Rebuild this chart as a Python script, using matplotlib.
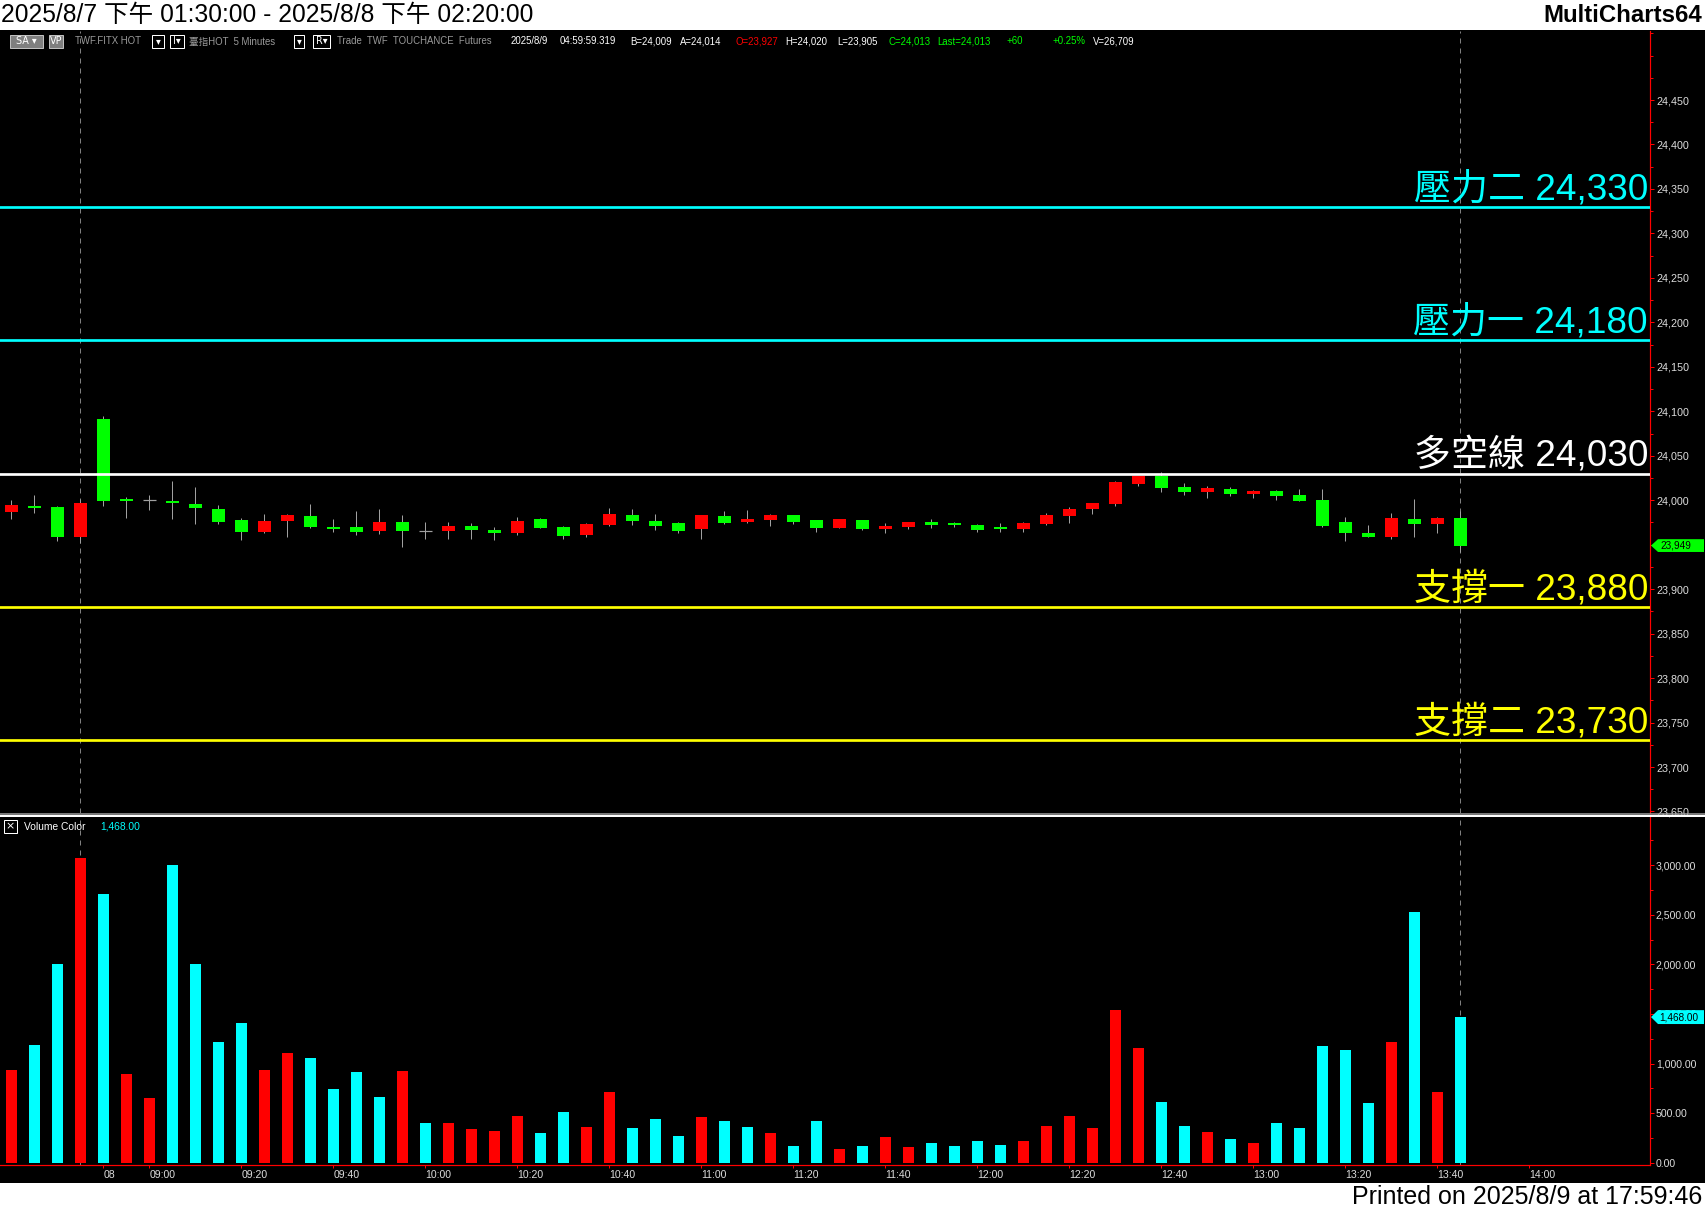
import matplotlib
matplotlib.use('Agg')
import matplotlib.pyplot as plt
from matplotlib.patches import Rectangle, Polygon
from matplotlib.lines import Line2D
from matplotlib.transforms import blended_transform_factory
from matplotlib.ticker import MultipleLocator

# ---------------- data ----------------
opens = [23987, 23993, 23992, 23959, 24091, 24001, 24000, 23999, 23996, 23990,
         23978, 23964, 23977, 23982, 23970, 23970, 23965, 23975, 23965, 23965,
         23971, 23966, 23963, 23979, 23970, 23961, 23972, 23983, 23977, 23974,
         23968, 23982, 23976, 23978, 23983, 23978, 23969, 23978, 23968, 23970,
         23975, 23974, 23972, 23970, 23968, 23973, 23982, 23990, 23996, 24018,
         24027, 24015, 24009, 24013, 24007, 24010, 24006, 24000, 23975, 23963,
         23959, 23979, 23973, 23980]
highs = [24000, 24006, 23994, 24001, 24095, 24004, 24006, 24022, 24015, 23995,
         23980, 23985, 23985, 23996, 23979, 23988, 23990, 23983, 23976, 23976,
         23974, 23970, 23981, 23980, 23971, 23974, 23991, 23990, 23985, 23976,
         23983, 23988, 23989, 23985, 23983, 23978, 23979, 23978, 23974, 23976,
         23979, 23976, 23973, 23974, 23976, 23986, 23992, 23997, 24022, 24027,
         24032, 24019, 24016, 24015, 24012, 24012, 24013, 24013, 23981, 23972,
         23986, 24001, 23981, 23988]
lows = [23979, 23986, 23954, 23952, 23994, 23980, 23989, 23979, 23973, 23973,
        23955, 23963, 23959, 23969, 23964, 23961, 23962, 23947, 23956, 23956,
        23956, 23955, 23961, 23969, 23956, 23959, 23971, 23972, 23967, 23963,
        23956, 23973, 23974, 23971, 23973, 23964, 23969, 23967, 23963, 23968,
        23969, 23970, 23964, 23964, 23964, 23972, 23974, 23985, 23994, 24016,
        24009, 24006, 24003, 24005, 24003, 24000, 23999, 23970, 23954, 23959,
        23956, 23959, 23963, 23942]
closes = [23995, 23991, 23959, 23997, 23999, 23999, 24000, 23997, 23991, 23975,
          23964, 23977, 23983, 23970, 23968, 23964, 23975, 23965, 23965, 23971,
          23966, 23963, 23977, 23969, 23960, 23973, 23985, 23977, 23971, 23965,
          23983, 23974, 23979, 23983, 23976, 23969, 23979, 23968, 23971, 23975,
          23972, 23972, 23966, 23968, 23974, 23983, 23990, 23997, 24020, 24027,
          24014, 24009, 24014, 24007, 24010, 24005, 23999, 23971, 23963, 23959,
          23980, 23973, 23980, 23949]
volumes = [934, 1186, 2002, 3070, 2707, 894, 652, 3000, 2002, 1216,
           1407, 934, 1105, 1055, 742, 914, 662, 924, 400, 400,
           339, 319, 470, 299, 511, 359, 712, 349, 440, 269,
           460, 420, 359, 299, 168, 420, 138, 168, 259, 158,
           198, 168, 218, 178, 218, 369, 470, 349, 1538, 1156,
           611, 369, 309, 238, 198, 400, 349, 1176, 1135, 601,
           1216, 2526, 712, 1468]
vol_dir = ['R', 'C', 'C', 'R', 'C', 'R', 'R', 'C', 'C', 'C',
           'C', 'R', 'R', 'C', 'C', 'C', 'C', 'R', 'C', 'R',
           'R', 'R', 'R', 'C', 'C', 'R', 'R', 'C', 'C', 'C',
           'R', 'C', 'C', 'R', 'C', 'C', 'R', 'C', 'R', 'R',
           'C', 'C', 'C', 'C', 'R', 'R', 'R', 'R', 'R', 'R',
           'C', 'C', 'R', 'C', 'R', 'C', 'C', 'C', 'C', 'C',
           'R', 'C', 'R', 'C']
time_tick_bars = [4, 6, 10, 14, 18, 22, 26, 30, 34, 38, 42, 46, 50, 54, 58, 62, 66]
time_tick_labels = ['08', '09:00', '09:20', '09:40', '10:00', '10:20', '10:40', '11:00',
                    '11:20', '11:40', '12:00', '12:20', '12:40', '13:00', '13:20', '13:40', '14:00']
level_names = ['壓力二', '壓力一', '多空線', '支撐一', '支撐二']
level_values = [24330, 24180, 24030, 23880, 23730]
price_ticks = list(range(23650, 24451, 50))
volume_ticks = [0, 500, 1000, 1500, 2000, 2500, 3000]
session_break_bar = 3
last_price = 23949
last_volume = 1468

# ---------------- layout ----------------
W, H, DPI = 1705, 1211, 100
fig = plt.figure(figsize=(W / DPI, H / DPI), dpi=DPI, facecolor='white')


def fx(px):
    return px / W


def fy(py):
    return 1 - py / H


PX = 72.0 / DPI  # points per pixel
SANS = ['Liberation Sans', 'Noto Sans CJK TC', 'DejaVu Sans']

fig.patches.append(Rectangle((0, fy(1183)), 1, fy(30) - fy(1183), transform=fig.transFigure,
                             facecolor='black', edgecolor='none', zorder=-5))

ax_p = fig.add_axes([0, fy(813), fx(1650), fy(31) - fy(813)], facecolor='black')
ax_v = fig.add_axes([0, fy(1165), fx(1650), fy(817) - fy(1165)], facecolor='black')

n = len(opens)
xs = list(range(n))
xlim = (-0.496, 71.24)

# ---------------- price panel ----------------
ax_p.set_xlim(*xlim)
ax_p.set_ylim(23648.3, 24527.6)
for i in xs:
    o, h, l, c = opens[i], highs[i], lows[i], closes[i]
    ax_p.vlines(i, l, h, color='#A0A0A0', lw=1 * PX, zorder=2)
    if c > o:
        ax_p.bar(i, c - o, bottom=o, width=0.56, color='#FF0000', lw=0, zorder=3)
    elif c < o:
        ax_p.bar(i, o - c, bottom=c, width=0.56, color='#00FF00', lw=0, zorder=3)
    else:
        ax_p.hlines(o, i - 0.28, i + 0.28, color='#A0A0A0', lw=1.2 * PX, zorder=3)

level_colors = ['#00FFFF', '#00FFFF', '#FFFFFF', '#FFFF00', '#FFFF00']
bt = blended_transform_factory(ax_p.transAxes, ax_p.transData)
for name, val, col in zip(level_names, level_values, level_colors):
    ax_p.axhline(val, color=col, lw=2.7 * PX, zorder=4)
    ax_p.text(1648 / 1650, val + 8.5, f'{name} {val:,}', transform=bt, ha='right', va='baseline',
              color=col, fontsize=37 * PX, family=SANS, fontweight='light', zorder=5)

for axx in (ax_p, ax_v):
    axx.axvline(session_break_bar, color='#808080', lw=1 * PX, ls=(0, (5, 5)), zorder=1)
    axx.axvline(n - 1, color='#808080', lw=1 * PX, ls=(0, (5, 5)), zorder=1)
    for s in ['top', 'left', 'bottom']:
        axx.spines[s].set_visible(False)
    axx.spines['right'].set_color('#FF0000')
    axx.spines['right'].set_linewidth(1.2 * PX)
    axx.yaxis.tick_right()

ax_p.set_xticks([])
ax_p.set_yticks(price_ticks)
# the 23,950 label is hidden behind the last-price marker
ax_p.set_yticklabels(['' if abs(v - last_price) < 15 else f'{v:,}' for v in price_ticks])
ax_p.yaxis.set_minor_locator(MultipleLocator(25))
ax_p.tick_params(axis='y', which='major', colors='#FF0000', labelcolor='#DCDCDC',
                 labelsize=10.7 * PX, length=4 * PX, width=1 * PX, pad=2 * PX)
ax_p.tick_params(axis='y', which='minor', colors='#FF0000', length=3 * PX, width=1 * PX)
for lbl in ax_p.get_yticklabels():
    lbl.set_family(SANS)

# last price marker
hh = 7.2
ax_p.add_patch(Polygon([(1651 / 1650, last_price), (1658 / 1650, last_price + hh),
                        (1704 / 1650, last_price + hh), (1704 / 1650, last_price - hh),
                        (1658 / 1650, last_price - hh)], closed=True, transform=bt,
                       facecolor='#00FF00', edgecolor='none', clip_on=False, zorder=6))
ax_p.text(1660 / 1650, last_price, f'{last_price:,}', transform=bt, ha='left', va='center',
          color='black', fontsize=10 * PX, family=SANS, clip_on=False, zorder=7)

# ---------------- volume panel ----------------
ax_v.set_xlim(*xlim)
ax_v.set_ylim(-23, 3485)
vcols = ['#FF0000' if d == 'R' else '#00FFFF' for d in vol_dir]
ax_v.bar(xs, volumes, width=0.48, color=vcols, lw=0, zorder=3)
ax_v.spines['bottom'].set_visible(True)
ax_v.spines['bottom'].set_color('#FF0000')
ax_v.spines['bottom'].set_linewidth(1.2 * PX)
ax_v.set_yticks(volume_ticks)
ax_v.set_yticklabels([f'{v:,.2f}' for v in volume_ticks])
ax_v.yaxis.set_minor_locator(MultipleLocator(250))
ax_v.tick_params(axis='y', which='major', colors='#FF0000', labelcolor='#DCDCDC',
                 labelsize=10.5 * PX, length=4 * PX, width=1 * PX, pad=2 * PX)
ax_v.tick_params(axis='y', which='minor', colors='#FF0000', length=3 * PX, width=1 * PX)
ax_v.set_xticks(time_tick_bars)
ax_v.set_xticklabels(time_tick_labels)
ax_v.tick_params(axis='x', colors='#FF0000', labelcolor='#DCDCDC', labelsize=10.5 * PX,
                 length=3 * PX, width=1 * PX, pad=2 * PX)
for lbl in ax_v.get_xticklabels():
    lbl.set_ha('left')
    lbl.set_family(SANS)
for lbl in ax_v.get_yticklabels():
    lbl.set_family(SANS)

btv = blended_transform_factory(ax_v.transAxes, ax_v.transData)
vh = 70
ax_v.add_patch(Polygon([(1651 / 1650, last_volume), (1658 / 1650, last_volume + vh),
                        (1704 / 1650, last_volume + vh), (1704 / 1650, last_volume - vh),
                        (1658 / 1650, last_volume - vh)], closed=True, transform=btv,
                       facecolor='#00FFFF', edgecolor='none', clip_on=False, zorder=6))
ax_v.text(1659 / 1650, last_volume, f'{last_volume:,.2f}', transform=btv, ha='left', va='center',
          color='black', fontsize=10 * PX, family=SANS, clip_on=False, zorder=7)

# panel divider
fig.lines.append(Line2D([0, 1], [fy(814), fy(814)], transform=fig.transFigure,
                        color='#A0A0A0', lw=1.5 * PX, zorder=10))
fig.lines.append(Line2D([0, 1], [fy(816.2), fy(816.2)], transform=fig.transFigure,
                        color='#FFFFFF', lw=2 * PX, zorder=10))

# ---------------- header texts ----------------
fig.text(fx(1), fy(15), '2025/8/7 下午 01:30:00 - 2025/8/8 下午 02:20:00', ha='left', va='center',
         color='black', fontsize=24.6 * PX, family=SANS)
fig.text(fx(1702), fy(15), 'MultiCharts64', ha='right', va='center', color='black',
         fontsize=24 * PX, fontweight='bold', family=SANS)
fig.text(fx(1702), fy(1197), 'Printed on 2025/8/9 at 17:59:46', ha='right', va='center',
         color='black', fontsize=25 * PX, family=SANS)

IY = 41.5
INFO_FS = 9.6 * PX


def info(x, s, color):
    fig.text(fx(x), fy(IY), s, ha='left', va='center', color=color, fontsize=INFO_FS, family=SANS)


def box(x0, x1, face, edge, label, tcolor='white'):
    fig.patches.append(Rectangle((fx(x0), fy(48)), fx(x1 - x0), fy(35) - fy(48),
                                 transform=fig.transFigure, facecolor=face, edgecolor=edge,
                                 lw=1 * PX, zorder=4))
    fig.text(fx((x0 + x1) / 2), fy(IY), label, ha='center', va='center', color=tcolor,
             fontsize=INFO_FS, family=['DejaVu Sans'], zorder=5)


box(10, 43, '#7F7F7F', '#BFBFBF', 'SA ▾')
box(49, 63, '#7F7F7F', '#BFBFBF', 'VP')
box(152, 164, 'black', 'white', '▾')
box(170, 184, 'black', 'white', 'I▾')
box(294, 304, 'black', 'white', '▾')
box(313, 330, 'black', 'white', 'R▾')
GRAY = '#9A9A9A'
info(75, 'TWF.FITX HOT', GRAY)
info(189, '臺指HOT  5 Minutes', GRAY)
info(337, 'Trade  TWF  TOUCHANCE  Futures', GRAY)
info(511, '2025/8/9', 'white')
info(560, '04:59:59.319', 'white')
info(630, 'B=24,009', 'white')
info(680, 'A=24,014', 'white')
info(735, 'O=23,927', '#FF0000')
info(785, 'H=24,020', 'white')
info(837, 'L=23,905', 'white')
info(889, 'C=24,013', '#00FF00')
info(937, 'Last=24,013', '#00FF00')
info(1006, '+60', '#00FF00')
info(1052, '+0.25%', '#00FF00')
info(1093, 'V=26,709', 'white')

# volume legend
fig.patches.append(Rectangle((fx(4), fy(833)), fx(13), fy(820) - fy(833), transform=fig.transFigure,
                             facecolor='black', edgecolor='white', lw=1 * PX, zorder=11))
fig.text(fx(10.5), fy(826.5), '×', ha='center', va='center', color='white', fontsize=11 * PX,
         family=['DejaVu Sans'], zorder=12)
fig.text(fx(24), fy(826.5), 'Volume Color', ha='left', va='center', color='white',
         fontsize=10.3 * PX, family=SANS, zorder=12)
fig.text(fx(100), fy(826.5), '1,468.00', ha='left', va='center', color='#00FFFF',
         fontsize=10.3 * PX, family=SANS, zorder=12)

fig.savefig('out.png', dpi=DPI, facecolor='white')
